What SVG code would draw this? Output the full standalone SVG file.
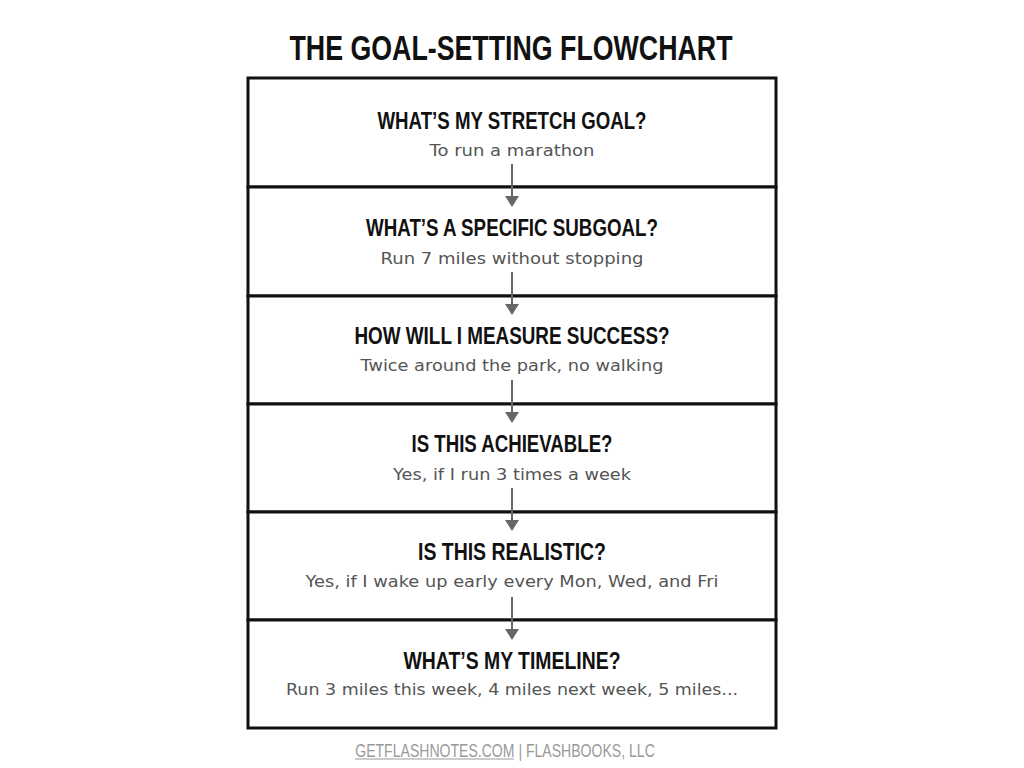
<svg xmlns="http://www.w3.org/2000/svg" width="1024" height="768" viewBox="0 0 1024 768">
<defs>
<style>
.title{font-family:"Liberation Sans",Arial,sans-serif;font-weight:bold;font-size:35px;fill:#111;text-anchor:middle}
.hdr{font-family:"Liberation Sans",Arial,sans-serif;font-weight:bold;font-size:23px;fill:#111;text-anchor:middle}
.sub{font-family:"DejaVu Sans",sans-serif;font-size:15px;fill:#555;text-anchor:middle}
.box{fill:#fff;stroke:#111;stroke-width:3}
.conn{stroke:#666;stroke-width:2;fill:none}
.head{fill:#666}
.foot{font-family:"Liberation Sans",Arial,sans-serif;font-size:19px;fill:#999;text-anchor:middle}
</style>
</defs>
<rect width="1024" height="768" fill="#fff"/>
<text class="title" x="511" y="60" textLength="443" lengthAdjust="spacingAndGlyphs">THE GOAL-SETTING FLOWCHART</text>

<g id="n1"><rect class="box" x="248" y="78" width="528" height="109"/>
<text class="hdr" x="512" y="129" textLength="269" lengthAdjust="spacingAndGlyphs">WHAT’S MY STRETCH GOAL?</text>
<text class="sub" x="512" y="156" textLength="165" lengthAdjust="spacingAndGlyphs">To run a marathon</text></g>
<g id="n2"><rect class="box" x="248" y="187" width="528" height="109"/>
<text class="hdr" x="512" y="236" textLength="292" lengthAdjust="spacingAndGlyphs">WHAT’S A SPECIFIC SUBGOAL?</text>
<text class="sub" x="512" y="264" textLength="263" lengthAdjust="spacingAndGlyphs">Run 7 miles without stopping</text></g>
<g id="n3"><rect class="box" x="248" y="296" width="528" height="108"/>
<text class="hdr" x="512" y="344" textLength="315" lengthAdjust="spacingAndGlyphs">HOW WILL I MEASURE SUCCESS?</text>
<text class="sub" x="512" y="371" textLength="303" lengthAdjust="spacingAndGlyphs">Twice around the park, no walking</text></g>
<g id="n4"><rect class="box" x="248" y="404" width="528" height="108"/>
<text class="hdr" x="512" y="452" textLength="201" lengthAdjust="spacingAndGlyphs">IS THIS ACHIEVABLE?</text>
<text class="sub" x="512" y="480" textLength="238" lengthAdjust="spacingAndGlyphs">Yes, if I run 3 times a week</text></g>
<g id="n5"><rect class="box" x="248" y="512" width="528" height="108"/>
<text class="hdr" x="512" y="560" textLength="188" lengthAdjust="spacingAndGlyphs">IS THIS REALISTIC?</text>
<text class="sub" x="512" y="587" textLength="413" lengthAdjust="spacingAndGlyphs">Yes, if I wake up early every Mon, Wed, and Fri</text></g>
<g id="n6"><rect class="box" x="248" y="620" width="528" height="108"/>
<text class="hdr" x="512" y="669" textLength="217" lengthAdjust="spacingAndGlyphs">WHAT’S MY TIMELINE?</text>
<text class="sub" x="512" y="695" textLength="452" lengthAdjust="spacingAndGlyphs">Run 3 miles this week, 4 miles next week, 5 miles...</text></g>

<g id="connectors">
<line class="conn" x1="512" y1="164" x2="512" y2="197"/><path class="head" d="M505,196 L519,196 L512,207 Z"/>
<line class="conn" x1="512" y1="272" x2="512" y2="305"/><path class="head" d="M505,304 L519,304 L512,315 Z"/>
<line class="conn" x1="512" y1="380" x2="512" y2="413"/><path class="head" d="M505,412 L519,412 L512,423 Z"/>
<line class="conn" x1="512" y1="488" x2="512" y2="521"/><path class="head" d="M505,520 L519,520 L512,531 Z"/>
<line class="conn" x1="512" y1="597" x2="512" y2="630"/><path class="head" d="M505,629 L519,629 L512,640 Z"/>
</g>

<g id="footer">
<text class="foot" transform="translate(505,757) scale(0.74,1)" x="0" y="0">GETFLASHNOTES.COM | FLASHBOOKS, LLC</text>
<line x1="355" y1="759" x2="514" y2="759" stroke="#999" stroke-width="1"/>
</g>
</svg>
